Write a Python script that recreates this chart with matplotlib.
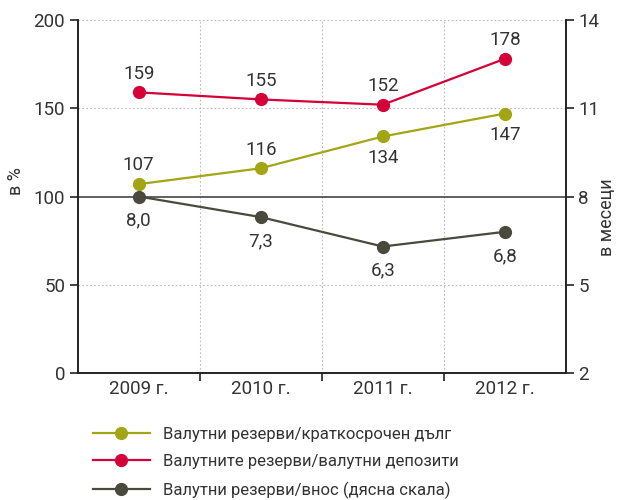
import numpy as np
import matplotlib
matplotlib.use("Agg")
import matplotlib.pyplot as plt

plt.rcParams['font.family'] = ['Roboto', 'DejaVu Sans']

years = ["2009 г.", "2010 г.", "2011 г.", "2012 г."]
short_debt = [107, 116, 134, 147]
deposits = [159, 155, 152, 178]
imports = [8.0, 7.3, 6.3, 6.8]

names = ["Валутни резерви/краткосрочен дълг",
         "Валутните резерви/валутни депозити",
         "Валутни резерви/внос (дясна скала)"]

c_green = "#a3a614"
c_red = "#d50038"
c_dark = "#4a4a3c"
txt = "#333333"
fs = 13.5

fig = plt.figure(figsize=(6.17, 5.0), dpi=100)
ax = fig.add_axes([0.126, 0.254, 0.791, 0.706])
ax2 = ax.twinx()

x = np.arange(len(years))

# grid
for v in [50, 150, 200]:
    ax.axhline(v, color="#bbbbbb", lw=0.8, ls=(0, (1.5, 2)), zorder=0)
for b in [0.5, 1.5, 2.5]:
    ax.axvline(b, color="#bbbbbb", lw=0.8, ls=(0, (1.5, 2)), zorder=0)
ax.axhline(100, color="#444444", lw=1.2, zorder=1)

l1, = ax.plot(x, short_debt, color=c_green, lw=1.6, marker="o", ms=8.5, zorder=3)
l2, = ax.plot(x, deposits, color=c_red, lw=1.6, marker="o", ms=8.5, zorder=3)
l3, = ax2.plot(x, imports, color=c_dark, lw=1.6, marker="o", ms=8.5, zorder=3)

ax.set_xlim(-0.5, 3.5)
ax.set_ylim(0, 200)
ax2.set_ylim(2, 14)
ax.set_yticks([0, 50, 100, 150, 200])
ax2.set_yticks([2, 5, 8, 11, 14])

ax.set_xticks(x)
ax.set_xticklabels(years)
ax.set_xticks([0.5, 1.5, 2.5], minor=True)
ax.tick_params(axis="x", which="major", length=0, pad=5, labelsize=fs, labelcolor=txt)
ax.tick_params(axis="x", which="minor", length=6, width=1.2, direction="out", color="#222222")
ax.tick_params(axis="y", length=6, width=1.2, pad=3, labelsize=fs, labelcolor=txt, color="#222222")
ax2.tick_params(axis="y", length=6, width=1.2, pad=3, labelsize=fs, labelcolor=txt, color="#222222")

for a in (ax, ax2):
    a.spines["top"].set_visible(False)
    for s in ["left", "right", "bottom"]:
        a.spines[s].set_linewidth(1.2)
        a.spines[s].set_color("#222222")

ax.set_ylabel("в %", fontsize=13, color=txt)
ax.yaxis.set_label_coords(-0.109, 0.544)
ax2.set_ylabel("в месеци", fontsize=13, color=txt, rotation=90)
ax2.yaxis.set_label_coords(1.066, 0.442)

# value labels
for i, v in enumerate(deposits):
    ax.annotate(str(v), (i, v), xytext=(0, 7), textcoords="offset points",
                ha="center", va="bottom", fontsize=fs, color=txt)
for i, v in enumerate(short_debt):
    if i < 2:
        ax.annotate(str(v), (i, v), xytext=(0, 7), textcoords="offset points",
                    ha="center", va="bottom", fontsize=fs, color=txt)
    else:
        ax.annotate(str(v), (i, v), xytext=(0, -9), textcoords="offset points",
                    ha="center", va="top", fontsize=fs, color=txt)
for i, v in enumerate(imports):
    ax2.annotate(f"{v:.1f}".replace(".", ","), (i, v), xytext=(0, -11),
                 textcoords="offset points", ha="center", va="top", fontsize=fs, color=txt)

fig.legend([l1, l2, l3], names, loc="upper left", bbox_to_anchor=(0.14, 0.16),
           frameon=False, fontsize=12, handlelength=3.4, labelspacing=0.75,
           handletextpad=0.8, labelcolor=txt, borderaxespad=0)

fig.savefig("out.png", dpi=100)
